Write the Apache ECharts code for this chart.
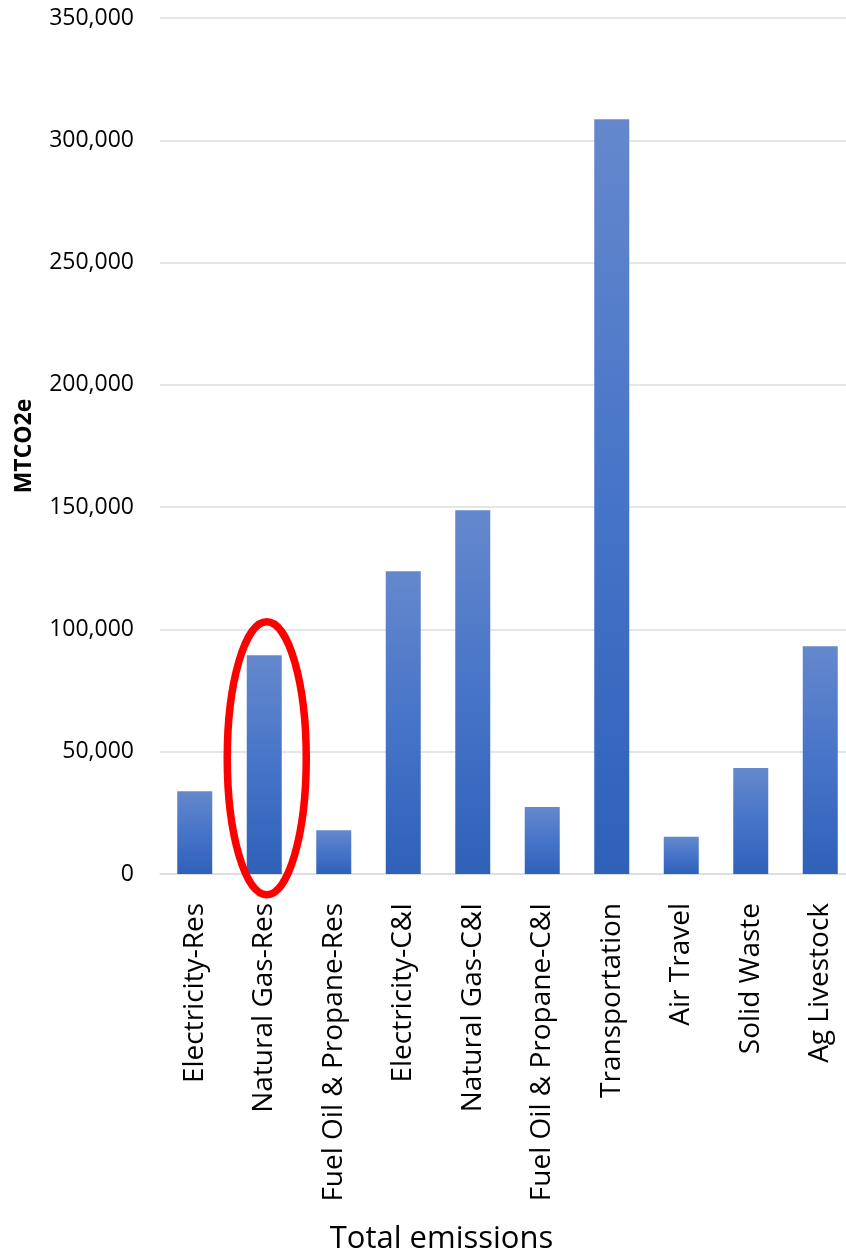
<!DOCTYPE html>
<html>
<head>
<meta charset="utf-8">
<script src="https://cdn.jsdelivr.net/npm/echarts@6/dist/echarts.min.js"></script>
<style>
html,body{margin:0;padding:0;background:#fff;}
#chart{width:846px;height:1255px;}
</style>
</head>
<body>
<div id="chart"></div>
<script>
const categories = ["Electricity-Res","Natural Gas-Res","Fuel Oil & Propane-Res","Electricity-C&I","Natural Gas-C&I","Fuel Oil & Propane-C&I","Transportation","Air Travel","Solid Waste","Ag Livestock"];
const emissions = [33800, 89400, 17900, 123800, 148700, 27400, 308600, 15200, 43300, 93100];
const yTicks = [0, 50000, 100000, 150000, 200000, 250000, 300000, 350000];
const highlightIndex = 1;

(function () {
const FONT = "'Open Sans', 'Liberation Sans', sans-serif";
const chart = echarts.init(document.getElementById('chart'), null, {renderer: 'canvas'});

const option = {
  animation: false,
  backgroundColor: '#ffffff',
  grid: {left: 160, top: 18, width: 695, height: 856, containLabel: false, outerBoundsMode: 'none'},
  xAxis: {
    type: 'category',
    data: categories,
    name: 'Total emissions',
    nameLocation: 'middle',
    nameGap: 350,
    nameTextStyle: {fontFamily: FONT, fontSize: 31, color: '#000', padding: [0, 132, 0, 0]},
    axisLine: {show: true, lineStyle: {color: '#d9dde3', width: 1.5}},
    axisTick: {show: false},
    axisLabel: {rotate: 90, margin: 29, fontFamily: FONT, fontSize: 28, color: '#000', interval: 0}
  },
  yAxis: {
    type: 'value',
    min: yTicks[0],
    max: yTicks[yTicks.length - 1],
    interval: yTicks[1] - yTicks[0],
    name: 'MTCO2e',
    nameLocation: 'middle',
    nameGap: 124,
    nameTextStyle: {fontFamily: FONT, fontSize: 23, fontWeight: 'bold', color: '#000'},
    axisLine: {show: false},
    axisTick: {show: false},
    splitLine: {lineStyle: {color: '#d9dde3', width: 1.5}},
    axisLabel: {
      margin: 26, fontFamily: FONT, fontSize: 23, color: '#000',
      formatter: v => v.toLocaleString('en-US')
    }
  },
  series: [{
    type: 'bar',
    data: emissions,
    barWidth: 35,
    itemStyle: {
      color: new echarts.graphic.LinearGradient(0, 0, 0, 1, [
        {offset: 0, color: '#6588cc'},
        {offset: 0.5, color: '#4674c8'},
        {offset: 1, color: '#2f61b9'}
      ])
    }
  }]
};
chart.setOption(option);

// red highlight ellipse around the Natural Gas-Res bar, positioned via the axes
const ctr = chart.convertToPixel({seriesIndex: 0}, [highlightIndex, 47300]);
const topPt = chart.convertToPixel({seriesIndex: 0}, [highlightIndex, 47300 + 55800]);
const ry = ctr[1] - topPt[1];
chart.setOption({
  graphic: [{
    type: 'ellipse',
    shape: {cx: ctr[0] + 2.5, cy: ctr[1], rx: 39.5, ry: ry},
    style: {fill: 'none', stroke: '#ff0000', lineWidth: 7.5},
    z: 100
  }]
});
})();
</script>
</body>
</html>
